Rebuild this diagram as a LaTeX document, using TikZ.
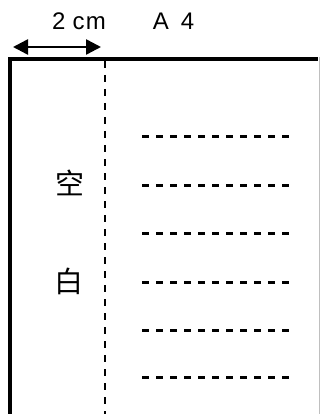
\documentclass[tikz,border=0pt]{standalone}
\usepackage{fontspec}
\setmainfont{Liberation Sans}
\newfontfamily\cjk{Noto Sans CJK SC}
\usetikzlibrary{arrows.meta}
\begin{document}
\begin{tikzpicture}[x=1pt, y=-1pt,
	label/.style={font=\fontsize{24}{24}\selectfont, inner sep=0pt, anchor=base},
	kanji/.style={font=\cjk\fontsize{29}{29}\selectfont, inner sep=0pt},
	guide/.style={line width=3pt, dash pattern=on 7pt off 7pt}]
		\useasboundingbox (0,0) rectangle (320,414);

		\node[label] (width) at (79,29.5) {2\hspace{0.3em}c\hspace{0.05em}m};
		\node[label] (paper) at (173.5,29.5) {A\hspace{0.5em}4};

		\coordinate (arrL) at (13,47);
		\coordinate (arrR) at (101,47);
		\draw[line width=2.5pt, {Triangle[length=15pt,width=15pt]}-{Triangle[length=15pt,width=15pt]}] (arrL) -- (arrR);

		\draw[line width=4pt] (9.5,414) |- (318,59);
		\draw[gray!50, line width=1pt] (319,57) -- (319,414);
		\draw[line width=2.5pt, dash pattern=on 7pt off 7pt] (105,61) -- (105,414);

		\foreach \y in {137,185,233,282,330,377}
			\draw[guide] (142,\y) -- (290,\y);

		\node[kanji] (kong) at (70,183) {空};
		\node[kanji] (bai) at (69,281) {白};
	\end{tikzpicture}
\end{document}
